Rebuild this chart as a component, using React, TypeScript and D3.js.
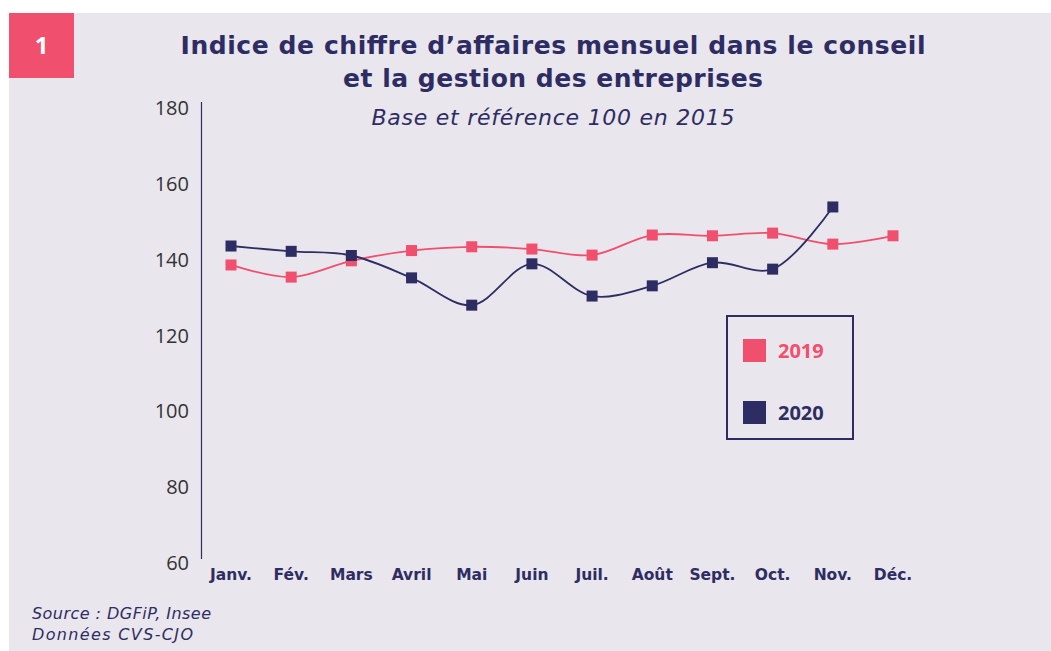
import React from 'react'
import * as d3 from 'd3'

const months = ['Janv.', 'Fév.', 'Mars', 'Avril', 'Mai', 'Juin', 'Juil.', 'Août', 'Sept.', 'Oct.', 'Nov.', 'Déc.']
const values2019 = [138.6, 135.4, 139.7, 142.4, 143.4, 142.8, 141.2, 146.5, 146.3, 147.0, 144.1, 146.3]
const values2020 = [143.6, 142.2, 141.1, 135.2, 128.0, 138.9, 130.4, 133.1, 139.2, 137.5, 153.9]
const yTicks = [60, 80, 100, 120, 140, 160, 180]
const seriesNames = ['2019', '2020']

const RED = '#f0506e'
const NAVY = '#2e2d63'
const BG = '#e9e6ed'
const FONT = "'Open Sans', sans-serif"
const WIDE = "'DejaVu Sans', sans-serif"

export default function App() {
  const width = 1051,
    height = 651

  const xScale = d3.scalePoint<string>()
    .domain(months)
    .range([231, 893])

  const yScale = d3.scaleLinear()
    .domain([60, 180])
    .range([563, 108])

  const line = d3.line<number>()
    .x((d, i) => xScale(months[i]) as number)
    .y(d => yScale(d))
    .curve(d3.curveCatmullRom.alpha(0.5))

  const series = [
    {name: seriesNames[0], values: values2019, color: RED},
    {name: seriesNames[1], values: values2020, color: NAVY},
  ]

  const mk = 11

  return (
    <svg width={width} height={height} style={{position: 'absolute', left: 0, top: 0}}>
      <rect x={0} y={0} width={width} height={height} fill={'#ffffff'}/>
      <rect x={9} y={13} width={width - 9} height={height - 13} fill={BG}/>

      {/* badge */}
      <rect x={9} y={13} width={65} height={65} fill={RED}/>
      <text x={41.5} y={54} textAnchor="middle" fontFamily={FONT} fontWeight={700} fontSize={24} fill="#fff">1</text>

      {/* titles */}
      <text x={553} y={54} textAnchor="middle" fontFamily={WIDE} fontWeight={700} fontSize={25} fill={NAVY}
        textLength={745} lengthAdjust="spacing">
        Indice de chiffre d’affaires mensuel dans le conseil
      </text>
      <text x={553} y={87} textAnchor="middle" fontFamily={WIDE} fontWeight={700} fontSize={25} fill={NAVY}
        textLength={420} lengthAdjust="spacing">
        et la gestion des entreprises
      </text>
      <text x={553} y={125} textAnchor="middle" fontFamily={WIDE} fontStyle="italic" fontSize={22} fill={NAVY}
        textLength={363} lengthAdjust="spacing">
        Base et référence 100 en 2015
      </text>

      {/* y axis */}
      <line x1={201.5} x2={201.5} y1={102} y2={559} stroke={NAVY} strokeWidth={1.2}/>
      {yTicks.map(t => (
        <text key={t} x={189} y={yScale(t)} dy="0.35em" textAnchor="end" fontFamily={FONT} fontSize={20} fill="#333">
          {t}
        </text>
      ))}

      {/* x labels */}
      {months.map(m => (
        <text key={m} x={xScale(m)} y={580} textAnchor="middle" fontFamily={WIDE} fontWeight={700} fontSize={15.5} fill={NAVY}>
          {m}
        </text>
      ))}

      {/* lines */}
      {series.map(s => (
        <g key={s.name}>
          <path d={line(s.values) || ''} fill="none" stroke={s.color} strokeWidth={1.8}/>
          {s.values.map((v, i) => (
            <rect key={i}
              x={(xScale(months[i]) as number) - mk / 2}
              y={yScale(v) - mk / 2}
              width={mk}
              height={mk}
              fill={s.color}
            />
          ))}
        </g>
      ))}

      {/* legend */}
      <rect x={727} y={316} width={126} height={123} fill="none" stroke={NAVY} strokeWidth={2}/>
      {series.map((s, i) => (
        <g key={s.name} transform={`translate(743, ${339 + i * 62})`}>
          <rect x={0} y={0} width={23} height={23} fill={s.color}/>
          <text x={35} y={11.5} dy="0.35em" fontFamily={FONT} fontWeight={700} fontSize={20} fill={s.color}>{s.name}</text>
        </g>
      ))}

      {/* source */}
      <text x={32} y={619} fontFamily={WIDE} fontStyle="italic" fontSize={16} fill={NAVY}
        textLength={179} lengthAdjust="spacing">Source : DGFiP, Insee</text>
      <text x={32} y={640} fontFamily={WIDE} fontStyle="italic" fontSize={16} fill={NAVY}
        textLength={161} lengthAdjust="spacing">Données CVS-CJO</text>
    </svg>
  )
}
